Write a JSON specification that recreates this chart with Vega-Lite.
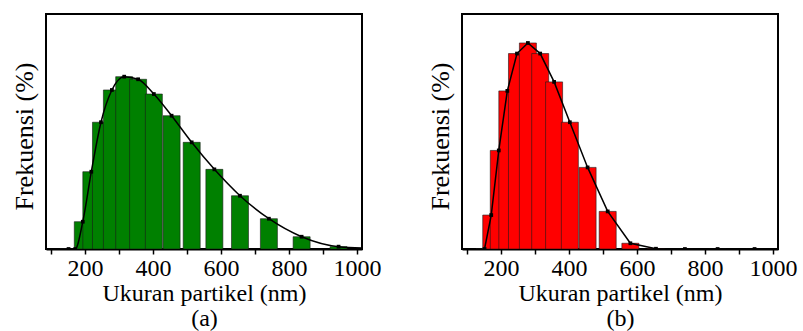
{
  "$schema": "https://vega.github.io/schema/vega-lite/v6.json",
  "padding": {"left": 10, "top": 13, "right": 0, "bottom": 0},
  "spacing": 44,
  "config": {
    "font": "Liberation Serif",
    "view": {"stroke": "black", "strokeWidth": 2},
    "axis": {"grid": false, "labelFont": "Liberation Serif", "titleFont": "Liberation Serif", "labelColor": "black", "titleColor": "black", "titleFontWeight": "normal"}
  },
  "datasets": {
    "a": [
      {"size": 151.6, "freq": 0},
      {"size": 171.3, "freq": 0},
      {"size": 193.5, "freq": 2.09},
      {"size": 218.6, "freq": 5.92},
      {"size": 247.0, "freq": 9.71},
      {"size": 279.1, "freq": 12.18},
      {"size": 315.3, "freq": 13.2},
      {"size": 356.2, "freq": 13.0},
      {"size": 402.5, "freq": 11.87},
      {"size": 454.7, "freq": 10.21},
      {"size": 513.8, "freq": 8.17},
      {"size": 580.5, "freq": 6.1},
      {"size": 655.8, "freq": 4.08},
      {"size": 740.9, "freq": 2.32},
      {"size": 837.1, "freq": 0.94},
      {"size": 945.8, "freq": 0.18},
      {"size": 1068.6, "freq": 0.03}
    ],
    "b": [
      {"size": 151.6, "freq": 0},
      {"size": 171.3, "freq": 2.6},
      {"size": 193.5, "freq": 7.55},
      {"size": 218.6, "freq": 12.11},
      {"size": 247.0, "freq": 14.97},
      {"size": 279.1, "freq": 15.78},
      {"size": 315.3, "freq": 14.97},
      {"size": 356.2, "freq": 12.8},
      {"size": 402.5, "freq": 9.71},
      {"size": 454.7, "freq": 6.25},
      {"size": 513.8, "freq": 2.88},
      {"size": 580.5, "freq": 0.44},
      {"size": 655.8, "freq": 0.02},
      {"size": 740.9, "freq": 0},
      {"size": 837.1, "freq": 0},
      {"size": 945.8, "freq": 0},
      {"size": 1068.6, "freq": 0}
    ]
  },
  "hconcat": [
    {
      "width": 316,
      "height": 235,
      "data": {"name": "a"},
      "encoding": {
        "x": {"field": "size", "type": "quantitative", "scale": {"domain": [100, 1000], "nice": false, "zero": false},
          "axis": {"values": [100, 200, 300, 400, 500, 600, 700, 800, 900, 1000], "format": "d", "labelExpr": "datum.value % 200 == 0 ? datum.label : ''", "labelFlush": false, "labelOverlap": false, "labelFontSize": 24, "labelPadding": 2, "tickSize": 5, "tickWidth": 1.5, "tickColor": "black", "domainColor": "black", "domainWidth": 2, "titleFontSize": 24, "titleLineHeight": 25, "titlePadding": 1, "title": ["Ukuran partikel (nm)", "(a)"]}},
        "y": {"field": "freq", "type": "quantitative", "scale": {"domain": [0, 18], "nice": false},
          "axis": {"ticks": false, "labels": false, "domain": false, "title": "Frekuensi (%)", "titleFontSize": 26, "titlePadding": 9, "titleY": 122}}
      },
      "layer": [
        {"mark": {"type": "bar", "size": 17, "fill": "#008000", "stroke": "#1a1a1a", "strokeWidth": 0.6, "clip": true}},
        {"mark": {"type": "line", "color": "black", "strokeWidth": 1.5, "interpolate": "monotone", "clip": true}},
        {"mark": {"type": "point", "shape": "square", "filled": true, "color": "black", "opacity": 1, "size": 14, "clip": true}}
      ]
    },
    {
      "width": 316,
      "height": 235,
      "data": {"name": "b"},
      "encoding": {
        "x": {"field": "size", "type": "quantitative", "scale": {"domain": [100, 1000], "nice": false, "zero": false},
          "axis": {"values": [100, 200, 300, 400, 500, 600, 700, 800, 900, 1000], "format": "d", "labelExpr": "datum.value % 200 == 0 ? datum.label : ''", "labelFlush": false, "labelOverlap": false, "labelFontSize": 24, "labelPadding": 2, "tickSize": 5, "tickWidth": 1.5, "tickColor": "black", "domainColor": "black", "domainWidth": 2, "titleFontSize": 24, "titleLineHeight": 25, "titlePadding": 1, "title": ["Ukuran partikel (nm)", "(b)"]}},
        "y": {"field": "freq", "type": "quantitative", "scale": {"domain": [0, 18], "nice": false},
          "axis": {"ticks": false, "labels": false, "domain": false, "title": "Frekuensi (%)", "titleFontSize": 26, "titlePadding": 9, "titleY": 122}}
      },
      "layer": [
        {"mark": {"type": "bar", "size": 17, "fill": "#ff0000", "stroke": "#1a1a1a", "strokeWidth": 0.6, "clip": true}},
        {"mark": {"type": "line", "color": "black", "strokeWidth": 1.5, "interpolate": "linear", "clip": true}},
        {"mark": {"type": "point", "shape": "square", "filled": true, "color": "black", "opacity": 1, "size": 14, "clip": true}}
      ]
    }
  ]
}
